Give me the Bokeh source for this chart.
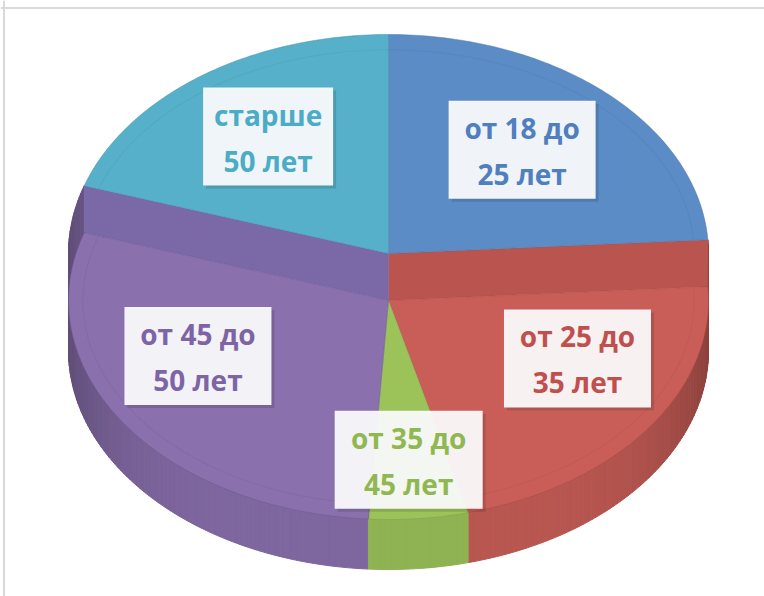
import numpy as np
from bokeh.plotting import figure
from bokeh.models import Range1d, Span
from bokeh.embed import file_html
from bokeh.resources import INLINE
from bokeh.core.properties import value

# ---------------- data ----------------
label_line1 = ["от 18 до", "от 25 до", "от 35 до", "от 45 до", "старше"]
label_line2 = ["25 лет", "35 лет", "45 лет", "50 лет", "50 лет"]
shares = [24, 22, 5, 29, 20]

# ---------------- styles / layout ----------------
top_colors = ["#5b8cc6", "#c95e58", "#9cc25a", "#8a70ad", "#56b0c9"]
wall_colors = ["#4f7db5", "#b9544f", "#8db04f", "#7a68a7", "#4a9db5"]
text_colors = ["#4f7fbf", "#c0504d", "#8fb850", "#7d64a4", "#4bacc6"]
edge_colors = ["#4a74a8", "#a84a46", "#80a04a", "#6a5890", "#3f8ea6"]
label_fx = [0.61, 0.73, 0.67, 0.72, 0.64]
label_fy = [0.65, 0.45, 0.73, 0.45, 0.66]
box_w = [147, 147, 148, 147, 130]
box_h = 98

CX, CY, RX, RY = 388.0, 253.0, 320.0, 219.0
DROP, THICK = 47.0, 50.0
W, H = 764, 596

p = figure(width=W, height=H, output_backend="svg", toolbar_location=None,
           x_range=Range1d(0, W), y_range=Range1d(H, 0),
           min_border=0, outline_line_color=None)
p.axis.visible = False
p.grid.visible = False
p.background_fill_color = "white"
p.border_fill_color = "white"

# chart frame (left & top edges)
p.add_layout(Span(location=3.5, dimension="height", line_color="#d9d9d9", line_width=2))
p.add_layout(Span(location=7.5, dimension="width", line_color="#d9d9d9", line_width=2))


def pt(theta, dy=0.0):
    t = np.radians(theta)
    return CX + RX * np.sin(t), CY - RY * np.cos(t) + dy


def shade(hex_color, f):
    h = hex_color.lstrip("#")
    r, g, b = (int(h[i:i + 2], 16) for i in (0, 2, 4))
    r, g, b = (max(0, min(255, int(c * f))) for c in (r, g, b))
    return "#%02x%02x%02x" % (r, g, b)


total = float(sum(shares))
ends = np.cumsum(shares) / total * 360.0
starts = np.concatenate([[0.0], ends[:-1]])
mids = (starts + ends) / 2
front = [np.cos(np.radians(m)) < 0 for m in mids]

# ---- outer walls of the front (lowered) slices ----
quads_x, quads_y, quads_c, quads_key = [], [], [], []
for i in range(len(shares)):
    if not front[i]:
        continue
    a0, a1 = starts[i], ends[i]
    n = max(2, int((a1 - a0) / 1.0))
    th = np.linspace(a0, a1, n + 1)
    for k in range(n):
        t0, t1 = th[k], th[k + 1]
        x0, y0 = pt(t0, 0)
        x1, y1 = pt(t1, 0)
        x0b, y0b = pt(t0, DROP + THICK)
        x1b, y1b = pt(t1, DROP + THICK)
        tm = np.radians((t0 + t1) / 2)
        f = 0.92 - 0.22 * abs(np.sin(tm)) ** 6
        quads_x.append([x0, x1, x1b, x0b])
        quads_y.append([y0, y1, y1b, y0b])
        quads_c.append(shade(top_colors[i], f))
        quads_key.append(np.cos(tm))
order = np.argsort(quads_key)[::-1]
p.patches([quads_x[j] for j in order], [quads_y[j] for j in order],
          fill_color=[quads_c[j] for j in order], line_color=[quads_c[j] for j in order],
          line_width=1.0)

# ---- radial walls where a lowered slice meets a raised one ----
n_s = len(shares)
for i in range(n_s):
    j = (i + 1) % n_s
    if front[i] == front[j]:
        continue
    lowered = i if front[i] else j
    th = ends[i]
    ex0, ey0 = pt(th, 0)
    ex1, ey1 = pt(th, DROP)
    p.patch([CX, ex0, ex1, CX], [CY, ey0, ey1, CY + DROP],
            fill_color=wall_colors[lowered], line_color=wall_colors[lowered], line_width=0.5)

# ---- top faces: raised slices first, then lowered ones ----
for pass_front in (False, True):
    for i in range(n_s):
        if front[i] != pass_front:
            continue
        dy = DROP if front[i] else 0.0
        th = np.linspace(starts[i], ends[i], max(8, int(shares[i] * 4)))
        ax, ay = pt(th, dy)
        xs = np.concatenate([[CX], ax])
        ys = np.concatenate([[CY + dy], ay])
        p.patch(xs, ys, fill_color=top_colors[i], line_color=edge_colors[i],
                line_width=0.8, line_alpha=0.6)
        # faint bevel rim
        bx = CX + 0.955 * RX * np.sin(np.radians(th))
        by = CY + dy - 0.93 * RY * np.cos(np.radians(th))
        p.line(bx, by, line_color=shade(top_colors[i], 0.9), line_width=1.2, line_alpha=0.35)

# ---- labels ----
for i in range(n_s):
    dy = DROP if front[i] else 0.0
    m = np.radians(mids[i])
    lx = CX + label_fx[i] * RX * np.sin(m)
    ly = CY + dy - label_fy[i] * RY * np.cos(m)
    p.rect(lx + 3, ly + 3, width=box_w[i], height=box_h, fill_color="#000000",
           fill_alpha=0.12, line_color=None)
    p.rect(lx, ly, width=box_w[i], height=box_h, fill_color="#fbfbfd",
           fill_alpha=0.94, line_color=None)
    p.text([lx], [ly - 22], text=[label_line1[i]], text_color=text_colors[i],
           text_font=value("Open Sans"), text_font_style="bold", text_font_size="28px",
           text_align="center", text_baseline="middle")
    p.text([lx], [ly + 24], text=[label_line2[i]], text_color=text_colors[i],
           text_font=value("Open Sans"), text_font_style="bold", text_font_size="28px",
           text_align="center", text_baseline="middle")

open("out.html", "w").write(file_html(p, INLINE))
